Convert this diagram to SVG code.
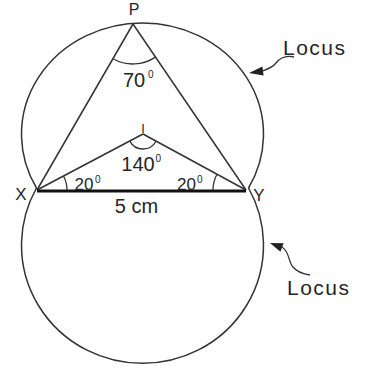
<svg xmlns="http://www.w3.org/2000/svg" width="368" height="369" viewBox="0 0 368 369">
<style>
.c{fill:none;stroke:#333;stroke-width:1.5}
.l{fill:none;stroke:#333;stroke-width:1.5}
.a{fill:none;stroke:#333;stroke-width:1.3}
.t{font-family:"Liberation Sans",Arial,sans-serif;fill:#262626}
.s{font-family:"Liberation Sans",Arial,sans-serif;fill:#262626;font-size:10px}
.h{fill:#222;stroke:none}
</style>
<rect width="368" height="369" fill="#fff"/>
<g id="locus-upper"><path class="c" d="M36.5 188 A121 111.3 0 1 1 248.5 188"/></g>
<g id="locus-lower"><path class="c" d="M36.5 188 A121 118.3 0 1 0 248.5 188"/></g>
<g id="connectors">
<line class="l" x1="37" y1="190" x2="133" y2="24"/>
<line class="l" x1="133" y1="24" x2="246" y2="190"/>
<line class="l" x1="37" y1="190" x2="143" y2="134"/>
<line class="l" x1="143" y1="134" x2="246" y2="190"/>
<line x1="37" y1="191" x2="246" y2="191" stroke="#111" stroke-width="3.2"/>
<path class="a" d="M113.1 58.7 A40 40 0 0 0 155.4 57.1"/>
<path class="a" d="M129.8 141.1 A15 15 0 0 0 156.1 141.3"/>
<path class="a" d="M67 190 A30 30 0 0 0 63.5 176"/>
<path class="a" d="M213 190 A33 33 0 0 1 217 174.3"/>
<path class="a" d="M294 57 C285 55 280 58 276 63 C272 68 268 69 262 71"/>
<polygon class="h" points="249,73 262.4,66.5 263.6,75.5"/>
<path class="a" d="M282 247 C290 252 288 262 293 267 C297 272 303 274 310 275"/>
<polygon class="h" points="270,243 283.6,243.3 280.4,251.7"/>
</g>
<g id="P"><text class="t" x="134" y="15" font-size="16" text-anchor="middle">P</text></g>
<g id="X"><text class="t" x="21" y="200" font-size="17" text-anchor="middle">X</text></g>
<g id="Y"><text class="t" x="259" y="201" font-size="17" text-anchor="middle">Y</text></g>
<g id="I"><text class="t" x="143" y="133" font-size="13" text-anchor="middle">I</text></g>
<g id="angle-P"><text class="t" x="134" y="87" font-size="20" text-anchor="middle">70</text><text class="s" x="148" y="78">0</text></g>
<g id="angle-I"><text class="t" x="138" y="171" font-size="20" text-anchor="middle">140</text><text class="s" x="155.5" y="162">0</text></g>
<g id="angle-X"><text class="t" x="84" y="190" font-size="17" text-anchor="middle">20</text><text class="s" x="95" y="183" font-size="9">0</text></g>
<g id="angle-Y"><text class="t" x="186.5" y="190" font-size="17" text-anchor="middle">20</text><text class="s" x="197" y="183" font-size="9">0</text></g>
<g id="length"><text class="t" x="136.5" y="213" font-size="20" text-anchor="middle">5 cm</text></g>
<g id="label-upper"><text class="t" x="283" y="55" font-size="21" textLength="62">Locus</text></g>
<g id="label-lower"><text class="t" x="287" y="295" font-size="21" textLength="62">Locus</text></g>
</svg>
